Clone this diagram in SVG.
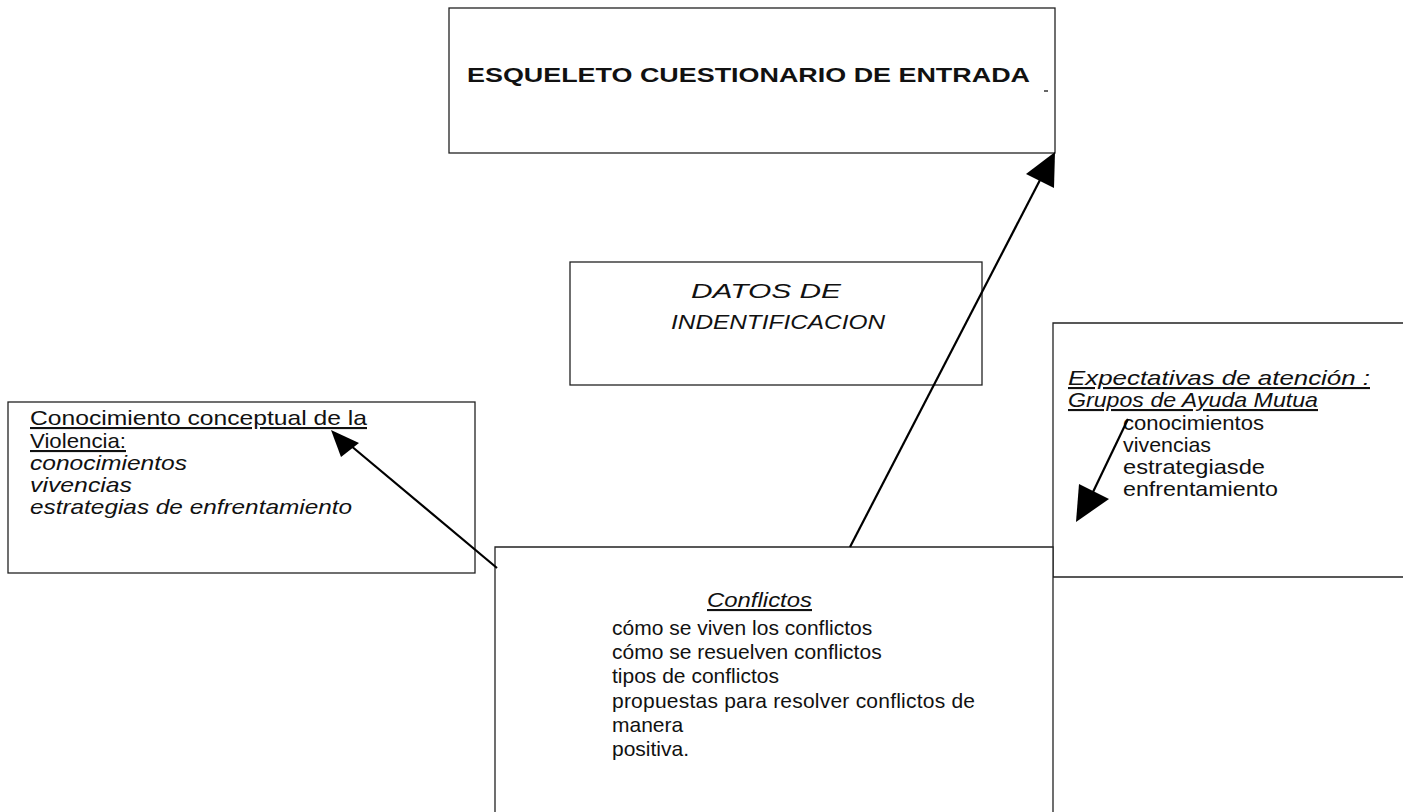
<svg xmlns="http://www.w3.org/2000/svg" width="1403" height="812" viewBox="0 0 1403 812">
<style>
.box{fill:#fff;stroke:#222;stroke-width:1.3}
.t{font-family:"Liberation Sans",Arial,sans-serif;font-size:21px;fill:#111}
.i{font-style:italic}
.u{text-decoration:underline}
.b{font-weight:bold}
.conn{stroke:#000;stroke-width:2.2;fill:none}
.head{fill:#000}
</style>
<rect width="1403" height="812" fill="#fff"/>
<g id="esqueleto">
<rect class="box" x="449" y="8" width="606" height="145"/>
<text class="t b" x="467" y="82" font-size="27" textLength="563" lengthAdjust="spacingAndGlyphs">ESQUELETO CUESTIONARIO DE ENTRADA</text>
<line x1="1044" y1="91" x2="1048" y2="91" stroke="#333" stroke-width="1.5"/>
</g>
<g id="datos">
<rect class="box" x="570" y="262" width="412" height="123"/>
<text class="t i" x="766" y="298" font-size="26" text-anchor="middle" textLength="150" lengthAdjust="spacingAndGlyphs">DATOS DE</text>
<text class="t i" x="778" y="329" font-size="26" text-anchor="middle" textLength="214" lengthAdjust="spacingAndGlyphs">INDENTIFICACION</text>
</g>
<g id="conocimiento">
<rect class="box" x="8" y="402" width="467" height="171"/>
<text class="t u" x="30" y="425" font-size="24" textLength="337" lengthAdjust="spacingAndGlyphs">Conocimiento conceptual de la</text>
<text class="t u" x="30" y="448" font-size="24" textLength="96" lengthAdjust="spacingAndGlyphs">Violencia:</text>
<text class="t i" x="30" y="470" font-size="24" textLength="157" lengthAdjust="spacingAndGlyphs">conocimientos</text>
<text class="t i" x="30" y="492" font-size="24" textLength="102" lengthAdjust="spacingAndGlyphs">vivencias</text>
<text class="t i" x="30" y="514" font-size="24" textLength="322" lengthAdjust="spacingAndGlyphs">estrategias de enfrentamiento</text>
</g>
<g id="expectativas">
<path class="box" d="M1403,323 H1053 V577 H1403"/>
<text class="t i u" x="1068" y="385" font-size="24" textLength="302" lengthAdjust="spacingAndGlyphs">Expectativas de atención :</text>
<text class="t i u" x="1068" y="407" font-size="24" textLength="250" lengthAdjust="spacingAndGlyphs">Grupos de Ayuda Mutua</text>
<text class="t" x="1123" y="430" font-size="23" textLength="141" lengthAdjust="spacingAndGlyphs">conocimientos</text>
<text class="t" x="1123" y="452" font-size="23" textLength="88" lengthAdjust="spacingAndGlyphs">vivencias</text>
<text class="t" x="1123" y="474" font-size="23" textLength="142" lengthAdjust="spacingAndGlyphs">estrategiasde</text>
<text class="t" x="1123" y="496" font-size="23" textLength="155" lengthAdjust="spacingAndGlyphs">enfrentamiento</text>
</g>
<g id="conflictos">
<path class="box" d="M495,812 V547 H1053 V812"/>
<text class="t i u" x="707" y="607" font-size="23" textLength="105" lengthAdjust="spacingAndGlyphs">Conflictos</text>
<text class="t" x="612" y="635">cómo se viven los conflictos</text>
<text class="t" x="612" y="659">cómo se resuelven conflictos</text>
<text class="t" x="612" y="683">tipos de conflictos</text>
<text class="t" x="612" y="708" textLength="363">propuestas para resolver conflictos de</text>
<text class="t" x="612" y="732">manera</text>
<text class="t" x="612" y="756">positiva.</text>
</g>
<g id="connectors">
<line class="conn" x1="850" y1="547" x2="1040" y2="180"/>
<polygon class="head" points="1055,152 1054,188 1026,174"/>
<line class="conn" x1="497" y1="568" x2="350" y2="445"/>
<polygon class="head" points="331,430 341,457 359,443"/>
<line class="conn" x1="1128" y1="419" x2="1093" y2="492"/>
<polygon class="head" points="1076,522 1079,484 1109,499"/>
</g>
</svg>
